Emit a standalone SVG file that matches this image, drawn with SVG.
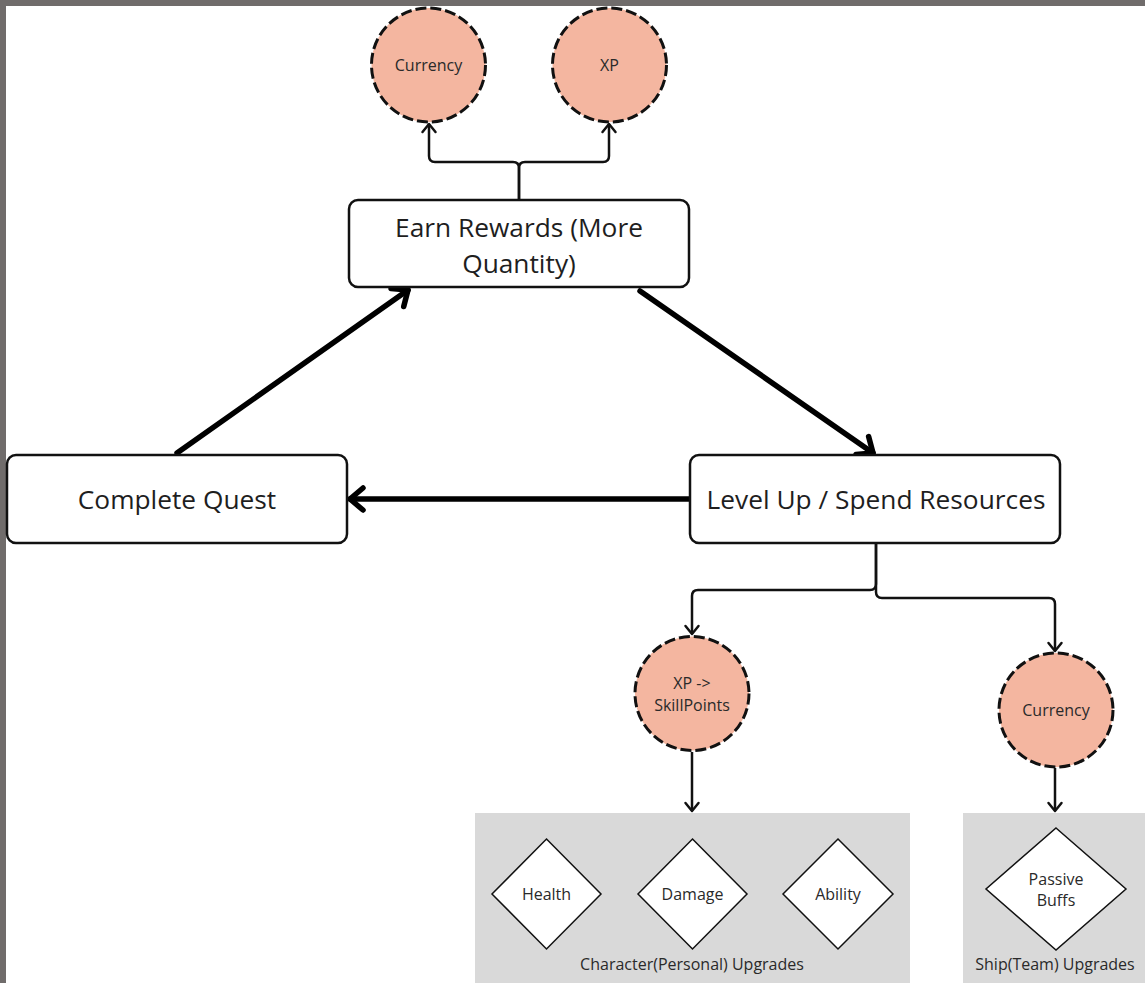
<svg xmlns="http://www.w3.org/2000/svg" width="1145" height="983" viewBox="0 0 1145 983">
  <style>
    .box { fill: #ffffff; stroke: #111111; stroke-width: 2.5; }
    .token { fill: #f4b6a0; stroke: #111111; stroke-width: 3; stroke-dasharray: 11 4; }
    .panel { fill: #d9d9d9; stroke: none; }
    .choice { fill: #ffffff; stroke: #111111; stroke-width: 1.5; }
    .big { font-family: "Open Sans", "Noto Sans", sans-serif; font-size: 26.3px; fill: #1e1e1e; text-anchor: middle; }
    .small { font-family: "Open Sans", "Noto Sans", sans-serif; font-size: 16px; fill: #2a2a2a; text-anchor: middle; }
    .thick { fill: none; stroke: #000000; stroke-width: 5.5; stroke-linecap: round; }
    .thin { fill: none; stroke: #111111; stroke-width: 2.5; stroke-linejoin: round; }
  </style>
  <defs>
    <marker id="headThick" markerUnits="userSpaceOnUse" markerWidth="40" markerHeight="40" viewBox="-20 -20 40 40" refX="0" refY="0" orient="auto">
      <path d="M-13,-11 L0,0 L-13,11" fill="none" stroke="#000" stroke-width="5.5" stroke-linecap="round" stroke-linejoin="round"/>
    </marker>
    <marker id="headThin" markerUnits="userSpaceOnUse" markerWidth="30" markerHeight="30" viewBox="-15 -15 30 30" refX="0" refY="0" orient="auto">
      <path d="M-8,-6.5 L0,0 L-8,6.5" fill="none" stroke="#111" stroke-width="2.5" stroke-linecap="round" stroke-linejoin="round"/>
    </marker>
  </defs>

  <!-- frame -->
  <rect x="0" y="0" width="1145" height="983" fill="#ffffff"/>
  <rect x="0" y="0" width="1145" height="6" fill="#706c6b"/>
  <rect x="0" y="0" width="6" height="983" fill="#706c6b"/>

  <!-- upgrade panels -->
  <g id="panel-character">
    <rect class="panel" x="475" y="813" width="435" height="170"/>
    <text class="small" x="692" y="970">Character(Personal) Upgrades</text>
  </g>
  <g id="panel-ship">
    <rect class="panel" x="963" y="813" width="182" height="170"/>
    <text class="small" x="1055" y="970">Ship(Team) Upgrades</text>
  </g>

  <!-- connectors -->
  <g id="connectors">
    <path class="thick" d="M177,453 L408,290" marker-end="url(#headThick)"/>
    <path class="thick" d="M640,291 L873,453" marker-end="url(#headThick)"/>
    <path class="thick" d="M690,499 L350,499" marker-end="url(#headThick)"/>
    <path class="thin" d="M519,200 V168 Q519,162 513,162 H435 Q429,162 429,156 V124" marker-end="url(#headThin)"/>
    <path class="thin" d="M519,200 V168 Q519,162 525,162 H603 Q609,162 609,156 V124" marker-end="url(#headThin)"/>
    <path class="thin" d="M876,543 V584 Q876,590 870,590 H698 Q692,590 692,596 V634" marker-end="url(#headThin)"/>
    <path class="thin" d="M876,543 V592 Q876,598 882,598 H1049 Q1055,598 1055,604 V651" marker-end="url(#headThin)"/>
    <path class="thin" d="M692,752 V811" marker-end="url(#headThin)"/>
    <path class="thin" d="M1055,768 V811" marker-end="url(#headThin)"/>
  </g>

  <!-- main loop -->
  <g id="earn-rewards">
    <rect class="box" x="349" y="200" width="340" height="87" rx="9"/>
    <text class="big" x="519" y="237">Earn Rewards (More</text>
    <text class="big" x="519" y="273">Quantity)</text>
  </g>
  <g id="complete-quest">
    <rect class="box" x="7" y="455" width="340" height="88" rx="9"/>
    <text class="big" x="177" y="509">Complete Quest</text>
  </g>
  <g id="level-up">
    <rect class="box" x="690" y="455" width="370" height="88" rx="9"/>
    <text class="big" x="876" y="509">Level Up / Spend Resources</text>
  </g>

  <!-- resources -->
  <g id="reward-currency">
    <circle class="token" cx="428.5" cy="65" r="57"/>
    <text class="small" x="428.5" y="71">Currency</text>
  </g>
  <g id="reward-xp">
    <circle class="token" cx="609.5" cy="65" r="57"/>
    <text class="small" x="609.5" y="71">XP</text>
  </g>
  <g id="spend-skillpoints">
    <circle class="token" cx="692" cy="693.5" r="57"/>
    <text class="small" x="692" y="689">XP -&gt;</text>
    <text class="small" x="692" y="711">SkillPoints</text>
  </g>
  <g id="spend-currency">
    <circle class="token" cx="1056" cy="710" r="57"/>
    <text class="small" x="1056" y="716">Currency</text>
  </g>

  <!-- upgrade choices -->
  <g id="upgrade-health">
    <polygon class="choice" points="546.5,839 601,894 546.5,949 492,894"/>
    <text class="small" x="546.5" y="900">Health</text>
  </g>
  <g id="upgrade-damage">
    <polygon class="choice" points="692.5,839 747,894 692.5,949 638,894"/>
    <text class="small" x="692.5" y="900">Damage</text>
  </g>
  <g id="upgrade-ability">
    <polygon class="choice" points="838,839 893,894 838,949 783,894"/>
    <text class="small" x="838" y="900">Ability</text>
  </g>
  <g id="upgrade-passive">
    <polygon class="choice" points="1056,828 1126,889 1056,950 986,889"/>
    <text class="small" x="1056" y="885">Passive</text>
    <text class="small" x="1056" y="906">Buffs</text>
  </g>
</svg>
